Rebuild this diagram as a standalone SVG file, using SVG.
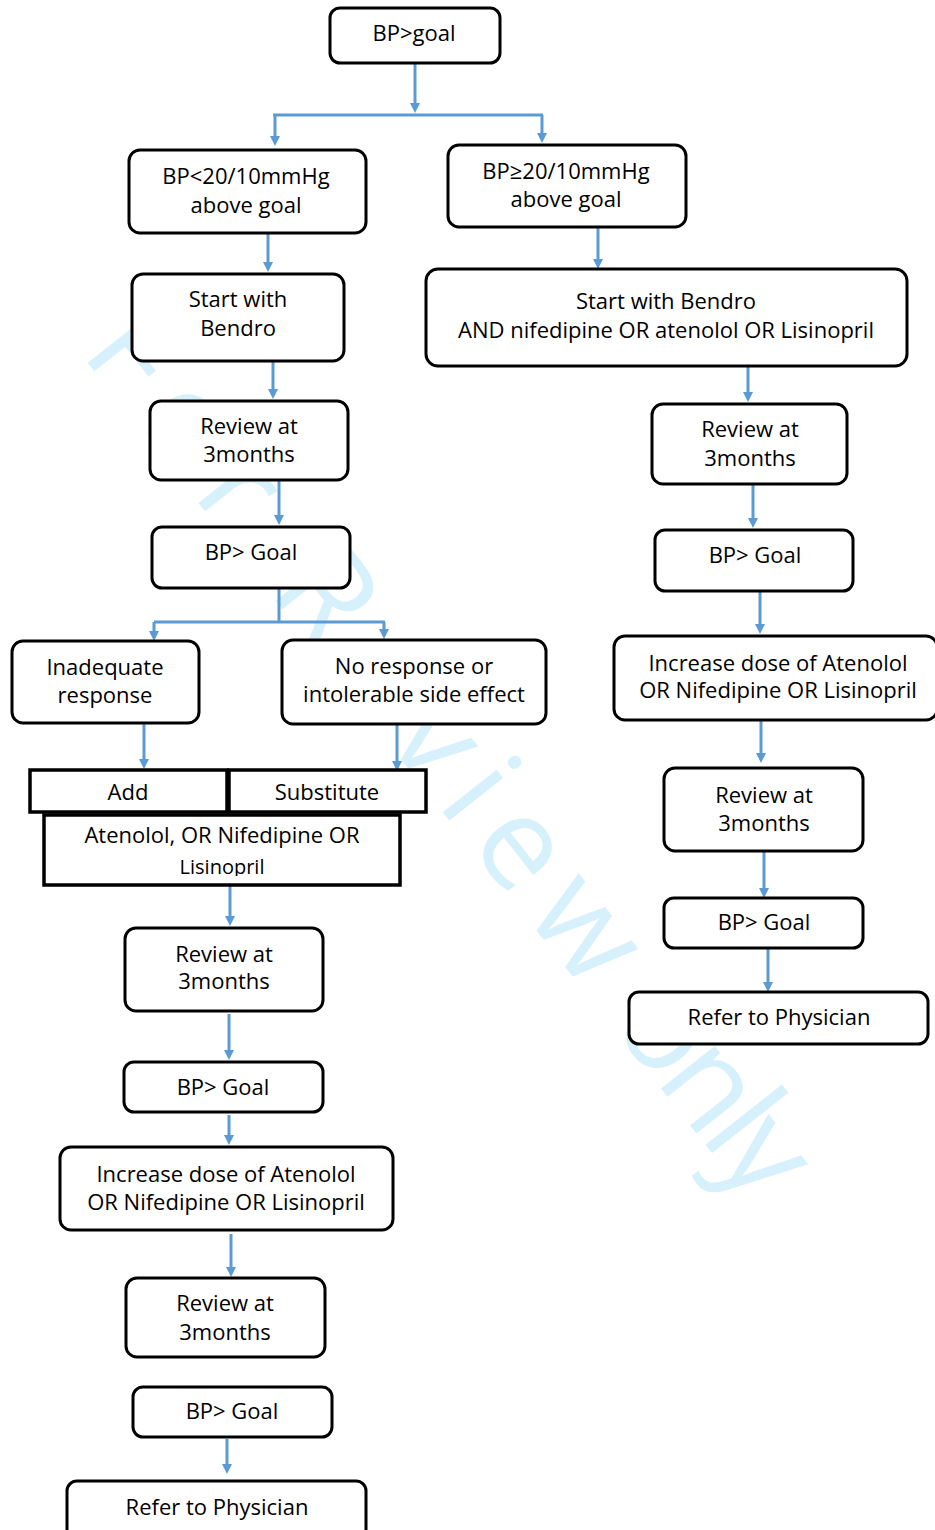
<svg xmlns="http://www.w3.org/2000/svg" width="935" height="1530" viewBox="0 0 935 1530">
  <style>
    .box { fill: #ffffff; stroke: #000000; stroke-width: 3; }
    .sq { fill: #ffffff; stroke: #000000; stroke-width: 3.5; }
    .t { font-family: "Open Sans", "Noto Sans", "DejaVu Sans", sans-serif; font-size: 22px; text-anchor: middle; fill: #000000; }
    .ts { font-size: 20px; }
    .c { stroke: #5b9bd5; stroke-width: 3; fill: none; }
    .a { marker-end: url(#ah); }
    .wm { font-family: "Open Sans", "Noto Sans", sans-serif; font-size: 128px; fill: #d6f1fb; }
  </style>
  <defs>
    <marker id="ah" viewBox="0 0 10 10" markerWidth="10" markerHeight="10" markerUnits="userSpaceOnUse" refX="3" refY="5" orient="auto">
      <path d="M0,0 L10,5 L0,10 z" fill="#5b9bd5"/>
    </marker>
    <clipPath id="clipAten">
      <rect x="44" y="815" width="356" height="61"/>
    </clipPath>
  </defs>

  <rect width="935" height="1530" fill="#ffffff"/>

  <!-- watermark, stretched along a diagonal -->
  <g transform="translate(80,353) rotate(51.7)">
    <text class="wm" x="0" y="0" textLength="815" lengthAdjust="spacing">For Review</text>
    <text class="wm" x="856" y="0" textLength="232" lengthAdjust="spacing">only</text>
  </g>

  <!-- connectors -->
  <g id="connectors">
    <path class="c a" d="M415,63 V106"/>
    <path class="c" d="M273,115 H543"/>
    <path class="c a" d="M275,115 V139"/>
    <path class="c a" d="M542,115 V136"/>
    <path class="c a" d="M268,233 V265"/>
    <path class="c a" d="M598,227 V262"/>
    <path class="c a" d="M273,361 V392"/>
    <path class="c a" d="M279,480 V518"/>
    <path class="c a" d="M748,366 V395"/>
    <path class="c a" d="M753,484 V521"/>
    <path class="c" d="M279,588 V622"/>
    <path class="c" d="M154,622 H385"/>
    <path class="c a" d="M154,622 V634"/>
    <path class="c a" d="M384,622 V632"/>
    <path class="c a" d="M760,591 V627"/>
    <path class="c a" d="M144,723 V762"/>
    <path class="c a" d="M397,724 V764"/>
    <path class="c a" d="M761,720 V756"/>
    <path class="c a" d="M764,851 V891"/>
    <path class="c a" d="M768,948 V985"/>
    <path class="c a" d="M230,885 V919"/>
    <path class="c a" d="M229,1014 V1053"/>
    <path class="c a" d="M229,1115 V1138"/>
    <path class="c a" d="M231,1234 V1270"/>
    <path class="c a" d="M227,1439 V1467"/>
  </g>

  <!-- nodes -->
  <g id="bp-goal-top">
    <rect class="box" x="330" y="8" width="170" height="55" rx="10"/>
    <text class="t" x="414" y="41">BP&gt;goal</text>
  </g>
  <g id="bp-lt-20">
    <rect class="box" x="129" y="150" width="237" height="83" rx="11"/>
    <text class="t" x="246" y="184">BP&lt;20/10mmHg</text>
    <text class="t" x="246" y="213">above goal</text>
  </g>
  <g id="bp-ge-20">
    <rect class="box" x="448" y="145" width="238" height="82" rx="11"/>
    <text class="t" x="566" y="179">BP≥20/10mmHg</text>
    <text class="t" x="566" y="207">above goal</text>
  </g>
  <g id="start-bendro">
    <rect class="box" x="132" y="274" width="212" height="87" rx="11"/>
    <text class="t" x="238" y="307">Start with</text>
    <text class="t" x="238" y="336">Bendro</text>
  </g>
  <g id="start-bendro-and">
    <rect class="box" x="426" y="269" width="481" height="97" rx="12"/>
    <text class="t" x="666" y="309">Start with Bendro</text>
    <text class="t" x="666" y="338">AND nifedipine OR atenolol OR Lisinopril</text>
  </g>
  <g id="review-l1">
    <rect class="box" x="150" y="401" width="198" height="79" rx="11"/>
    <text class="t" x="249" y="434">Review at</text>
    <text class="t" x="249" y="462">3months</text>
  </g>
  <g id="review-r1">
    <rect class="box" x="652" y="404" width="195" height="80" rx="11"/>
    <text class="t" x="750" y="437">Review at</text>
    <text class="t" x="750" y="466">3months</text>
  </g>
  <g id="bp-goal-l1">
    <rect class="box" x="152" y="527" width="198" height="61" rx="10"/>
    <text class="t" x="251" y="560">BP&gt; Goal</text>
  </g>
  <g id="bp-goal-r1">
    <rect class="box" x="655" y="530" width="198" height="61" rx="10"/>
    <text class="t" x="755" y="563">BP&gt; Goal</text>
  </g>
  <g id="inadequate">
    <rect class="box" x="12" y="641" width="187" height="82" rx="11"/>
    <text class="t" x="105" y="675">Inadequate</text>
    <text class="t" x="105" y="703">response</text>
  </g>
  <g id="no-response">
    <rect class="box" x="282" y="640" width="264" height="84" rx="11"/>
    <text class="t" x="414" y="674">No response or</text>
    <text class="t" x="414" y="702">intolerable side effect</text>
  </g>
  <g id="increase-r">
    <rect class="box" x="614" y="636" width="323" height="84" rx="11"/>
    <text class="t" x="778" y="671">Increase dose of Atenolol</text>
    <text class="t" x="778" y="698">OR Nifedipine OR Lisinopril</text>
  </g>
  <g id="add">
    <rect class="sq" x="30" y="770" width="197" height="42"/>
    <text class="t" x="128" y="800">Add</text>
  </g>
  <g id="substitute">
    <rect class="sq" x="229" y="770" width="197" height="42"/>
    <text class="t" x="327" y="800">Substitute</text>
  </g>
  <g id="drug-options">
    <rect class="sq" x="44" y="815" width="356" height="70"/>
    <g clip-path="url(#clipAten)">
      <text class="t" x="222" y="843">Atenolol, OR Nifedipine OR</text>
      <text class="t ts" x="222" y="874">Lisinopril</text>
    </g>
  </g>
  <g id="review-r2">
    <rect class="box" x="664" y="768" width="199" height="83" rx="11"/>
    <text class="t" x="764" y="803">Review at</text>
    <text class="t" x="764" y="831">3months</text>
  </g>
  <g id="bp-goal-r2">
    <rect class="box" x="664" y="898" width="199" height="50" rx="10"/>
    <text class="t" x="764" y="930">BP&gt; Goal</text>
  </g>
  <g id="refer-r">
    <rect class="box" x="629" y="992" width="299" height="52" rx="10"/>
    <text class="t" x="779" y="1025">Refer to Physician</text>
  </g>
  <g id="review-l2">
    <rect class="box" x="125" y="928" width="198" height="83" rx="11"/>
    <text class="t" x="224" y="962">Review at</text>
    <text class="t" x="224" y="989">3months</text>
  </g>
  <g id="bp-goal-l2">
    <rect class="box" x="124" y="1062" width="199" height="50" rx="10"/>
    <text class="t" x="223" y="1095">BP&gt; Goal</text>
  </g>
  <g id="increase-l">
    <rect class="box" x="60" y="1147" width="333" height="83" rx="11"/>
    <text class="t" x="226" y="1182">Increase dose of Atenolol</text>
    <text class="t" x="226" y="1210">OR Nifedipine OR Lisinopril</text>
  </g>
  <g id="review-l3">
    <rect class="box" x="126" y="1278" width="199" height="79" rx="11"/>
    <text class="t" x="225" y="1311">Review at</text>
    <text class="t" x="225" y="1340">3months</text>
  </g>
  <g id="bp-goal-l3">
    <rect class="box" x="133" y="1387" width="199" height="50" rx="10"/>
    <text class="t" x="232" y="1419">BP&gt; Goal</text>
  </g>
  <g id="refer-l">
    <rect class="box" x="67" y="1481" width="299" height="60" rx="10"/>
    <text class="t" x="217" y="1515">Refer to Physician</text>
  </g>
</svg>
